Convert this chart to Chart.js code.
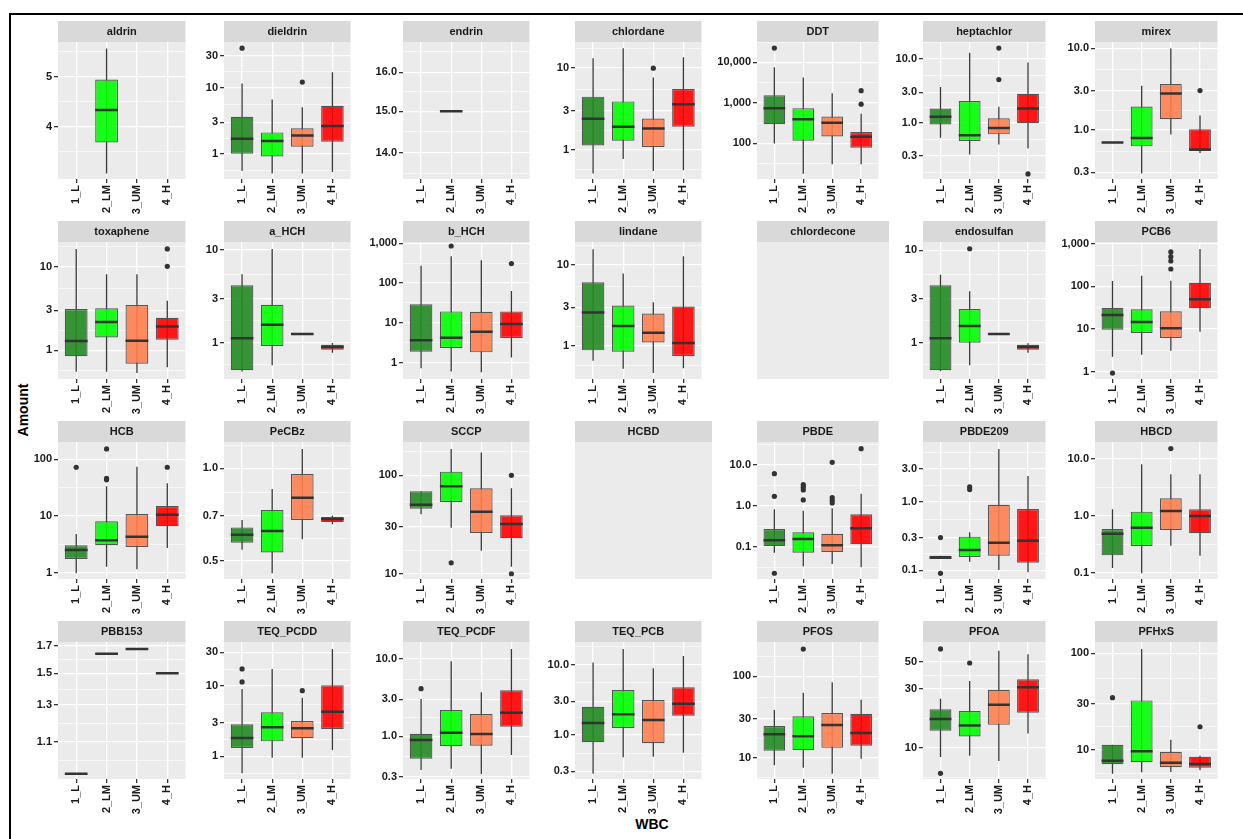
<!DOCTYPE html>
<html>
<head>
<meta charset="utf-8">
<script src="https://cdn.jsdelivr.net/npm/chart.js@4.4.0/dist/chart.umd.min.js"></script>
<style>
  body { margin: 0; background: #fff; }
  #fig { position: relative; width: 1243px; height: 839px; overflow: hidden; font-family: "Liberation Sans", Arial, sans-serif; }
  #frame { position: absolute; left: 9px; top: 13px; width: 1300px; height: 900px; border-left: 2px solid #000; border-top: 2px solid #000; }
  canvas { position: absolute; }
  .ttl { position: absolute; font-weight: bold; font-size: 14px; color: #000; white-space: nowrap; }
  #ylab { left: 23px; top: 410px; transform: translate(-50%, -50%) rotate(-90deg); }
  #xlab { left: 652px; top: 824px; transform: translate(-50%, -50%); }
</style>
</head>
<body>
<div id="fig">
  <div id="frame"></div>
  <div class="ttl" id="ylab">Amount</div>
  <div class="ttl" id="xlab">WBC</div>
</div>
<script>
const CATS = ['1_L', '2_LM', '3_UM', '4_H'];
const FILLS = ['rgba(34,139,34,0.9)', 'rgba(0,255,0,0.9)', 'rgba(255,127,80,0.9)', 'rgba(255,0,0,0.9)'];

// box stats per WBC class: [lower whisker, Q1, median, Q3, upper whisker]; null = no data
// outliers: [class index, value]
const aldrin = [null, [3.25, 3.73, 4.31, 4.94, 5.67], null, null];
const aldrinOut = [];
const dieldrin = [[0.56, 1.01, 1.70, 3.63, 11.5], [0.51, 0.92, 1.57, 2.12, 6.63], [0.51, 1.29, 1.91, 2.44, 5.07], [0.54, 1.53, 2.65, 5.33, 17.0]];
const dieldrinOut = [[0, 39], [2, 12.1]];
const endrin = [null, [15, 15, 15, 15, 15], null, null];
const endrinOut = [];
const chlordane = [[0.51, 1.13, 2.39, 4.47, 13.2], [0.77, 1.29, 1.91, 3.91, 17.5], [0.55, 1.08, 1.82, 2.41, 7.68], [0.56, 1.91, 3.62, 5.55, 13.6]];
const chlordaneOut = [[2, 10.0]];
const DDT = [[100, 297, 743, 1540, 7640], [17.9, 117, 395, 743, 4240], [30.7, 149, 322, 461, 1730], [30.7, 78, 147, 192, 538]];
const DDTOut = [[0, 22700], [3, 2010], [3, 933]];
const heptachlor = [[0.578, 0.93, 1.23, 1.67, 3.63], [0.314, 0.513, 0.629, 2.18, 12.6], [0.453, 0.652, 0.824, 1.17, 1.77], [0.391, 0.975, 1.67, 2.85, 8.85]];
const heptachlorOut = [[2, 14.9], [2, 4.76], [3, 0.155]];
const mirex = [[0.70, 0.70, 0.70, 0.70, 0.70], [0.29, 0.627, 0.796, 1.93, 3.47], [0.875, 1.35, 2.79, 3.67, 9.95], [0.52, 0.55, 0.575, 1.02, 1.50]];
const mirexOut = [[3, 3.04]];

const toxaphene = [[0.555, 0.848, 1.29, 3.12, 16.3], [0.555, 1.42, 2.18, 3.18, 8.11], [0.535, 0.69, 1.30, 3.48, 8.11], [0.626, 1.34, 1.92, 2.45, 3.92]];
const toxapheneOut = [[3, 16.3], [3, 10.1]];
const a_HCH = [[0.49, 0.504, 1.12, 4.16, 5.47], [0.57, 0.921, 1.56, 2.57, 10.25], [1.24, 1.24, 1.24, 1.24, 1.24], [0.78, 0.84, 0.90, 0.952, 0.99]];
const a_HCHOut = [];
const b_HCH = [[0.72, 1.87, 3.65, 29.3, 274], [0.595, 2.31, 4.22, 19.4, 472], [0.57, 1.80, 5.91, 18.9, 374], [1.34, 4.14, 9.34, 19.4, 63.7]];
const b_HCHOut = [[1, 861], [3, 1334], [3, 310]];
const lindane = [[0.653, 0.877, 2.58, 6.11, 15.6], [0.52, 0.843, 1.75, 3.15, 7.83], [0.46, 1.10, 1.45, 2.51, 3.46], [0.526, 0.746, 1.08, 3.06, 12.8]];
const lindaneOut = [];
const endosulfan = [[0.49, 0.503, 1.12, 4.18, 5.44], [0.57, 1.0, 1.52, 2.32, 3.6], [1.24, 1.24, 1.24, 1.24, 1.24], [0.78, 0.84, 0.90, 0.95, 0.99]];
const endosulfanOut = [[1, 10.4]];
const PCB6 = [[2.25, 9.65, 21.3, 31.6, 134], [2.5, 8.07, 14.6, 29, 178], [3.1, 6.17, 10.4, 26, 136], [8.66, 30.6, 49.8, 122, 752]];
const PCB6Out = [[0, 0.93], [2, 640], [2, 496], [2, 393], [2, 255]];

const HCB = [[0.99, 1.76, 2.54, 3.07, 4.85], [1.29, 3.07, 3.76, 8.12, 33.5], [1.16, 2.87, 4.35, 10.9, 74], [2.75, 6.63, 10.6, 15.1, 37.8]];
const HCBOut = [[0, 72.3], [1, 152], [1, 46.3], [1, 43.5], [3, 72.3]];
const PeCBz = [[0.543, 0.572, 0.608, 0.642, 0.679], [0.455, 0.532, 0.625, 0.731, 0.856], [0.587, 0.679, 0.802, 0.958, 1.156], [0.657, 0.668, 0.684, 0.694, 0.70]];
const PeCBzOut = [];
const SCCP = [[40.1, 45.8, 50.2, 68.7, 68.7], [29.3, 53.5, 77.3, 109, 185], [17.1, 25.9, 42.7, 73.8, 171], [11.8, 22.9, 32, 39.2, 73.8]];
const SCCPOut = [[1, 12.9], [3, 100], [3, 10]];
const PBDE = [[0.0733, 0.105, 0.147, 0.276, 0.83], [0.0343, 0.073, 0.158, 0.23, 0.77], [0.039, 0.0762, 0.111, 0.212, 0.88], [0.0324, 0.117, 0.287, 0.627, 1.99]];
const PBDEOut = [[0, 6.1], [0, 1.72], [0, 0.0232], [1, 3.29], [1, 2.85], [1, 2.45], [1, 1.40], [2, 11.5], [2, 1.59], [2, 1.35], [2, 1.18], [3, 24.7]];
const PBDE209 = [[0.146, 0.146, 0.153, 0.163, 0.163], [0.133, 0.156, 0.198, 0.309, 0.358], [0.101, 0.163, 0.252, 0.904, 5.87], [0.0934, 0.129, 0.27, 0.783, 2.37]];
const PBDE209Out = [[0, 0.30], [0, 0.0903], [1, 1.64], [1, 1.50]];
const HBCD = [[0.123, 0.205, 0.49, 0.592, 1.31], [0.1, 0.298, 0.625, 1.19, 8.03], [0.302, 0.569, 1.22, 2.04, 5.37], [0.202, 0.498, 1.0, 1.31, 5.37]];
const HBCDOut = [[2, 15.1]];

const PBB153 = [[0.951, 0.951, 0.951, 0.951, 0.951], [1.64, 1.64, 1.64, 1.64, 1.64], [1.675, 1.675, 1.675, 1.675, 1.675], [1.5, 1.5, 1.5, 1.5, 1.5]];
const PBB153Out = [];
const TEQ_PCDD = [[0.574, 1.31, 1.82, 2.85, 9.03], [0.955, 1.63, 2.58, 4.22, 17.4], [0.955, 1.80, 2.5, 3.17, 6.8], [1.23, 2.44, 4.30, 10.2, 33.4]];
const TEQ_PCDDOut = [[0, 17.4], [0, 11.4], [2, 8.55]];
const TEQ_PCDF = [[0.366, 0.513, 0.895, 1.08, 3.04], [0.381, 0.743, 1.11, 2.19, 9.34], [0.325, 0.756, 1.07, 1.94, 3.71], [0.573, 1.33, 2.02, 3.94, 13.5]];
const TEQ_PCDFOut = [[0, 4.13]];
const TEQ_PCB = [[0.279, 0.78, 1.47, 2.50, 10.7], [0.477, 1.25, 1.95, 4.33, 16.6], [0.486, 0.754, 1.62, 3.12, 8.81], [0.554, 1.86, 2.76, 4.73, 13.2]];
const TEQ_PCBOut = [];
const PFOS = [[8.07, 12.2, 19.4, 24.5, 38.5], [7.53, 12.4, 18.3, 32.3, 62.9], [6.36, 13.2, 25.2, 35.4, 84.3], [9.72, 14, 20.1, 34.7, 51.6]];
const PFOSOut = [[1, 216]];
const PFOA = [[8.45, 13.8, 17.2, 20.6, 25.1], [8.66, 12.4, 15.2, 19.9, 34.9], [7.85, 15.4, 22.4, 29.6, 61.4], [13.1, 19.3, 31, 36, 57.4]];
const PFOAOut = [[0, 63.4], [0, 6.24], [1, 48.8]];
const PFHxS = [[5.69, 7.11, 7.75, 11.3, 11.3], [5.88, 7.46, 9.7, 32.6, 111], [5.92, 6.62, 7.39, 9.6, 12.8], [6.17, 6.56, 7.16, 8.52, 8.7]];
const PFHxSOut = [[0, 34.8], [3, 17.4]];

// facet table: name, stats, outliers, y tick labels, y range (log axis)
const panels = [
  ['aldrin', aldrin, aldrinOut, ['4', '5'], [3.17, 5.84]],
  ['dieldrin', dieldrin, dieldrinOut, ['1', '3', '10', '30'], [0.423, 48.3]],
  ['endrin', endrin, endrinOut, ['14.0', '15.0', '16.0'], [13.4, 16.83]],
  ['chlordane', chlordane, chlordaneOut, ['1', '3', '10'], [0.438, 20.9]],
  ['DDT', DDT, DDTOut, ['100', '1,000', '10,000'], [13.2, 32000]],
  ['heptachlor', heptachlor, heptachlorOut, ['0.3', '1.0', '3.0', '10.0'], [0.129, 18.6]],
  ['mirex', mirex, mirexOut, ['0.3', '1.0', '3.0', '10.0'], [0.249, 12.0]],
  ['toxaphene', toxaphene, toxapheneOut, ['1', '3', '10'], [0.454, 19.7]],
  ['a_HCH', a_HCH, a_HCHOut, ['1', '3', '10'], [0.406, 12.2]],
  ['b_HCH', b_HCH, b_HCHOut, ['1', '10', '100', '1,000'], [0.384, 1085]],
  ['lindane', lindane, lindaneOut, ['1', '3', '10'], [0.388, 19.2]],
  ['chlordecone', null],
  ['endosulfan', endosulfan, endosulfanOut, ['1', '3', '10'], [0.405, 12.3]],
  ['PCB6', PCB6, PCB6Out, ['1', '10', '100', '1,000'], [0.675, 1096]],
  ['HCB', HCB, HCBOut, ['1', '10', '100'], [0.784, 201]],
  ['PeCBz', PeCBz, PeCBzOut, ['0.5', '0.7', '1.0'], [0.436, 1.218]],
  ['SCCP', SCCP, SCCPOut, ['10', '30', '100'], [8.84, 218]],
  ['HCBD', null],
  ['PBDE', PBDE, PBDEOut, ['0.1', '1.0', '10.0'], [0.0168, 35.9]],
  ['PBDE209', PBDE209, PBDE209Out, ['0.1', '0.3', '1.0', '3.0'], [0.0746, 7.42]],
  ['HBCD', HBCD, HBCDOut, ['0.1', '1.0', '10.0'], [0.079, 19.7]],
  ['PBB153', PBB153, PBB153Out, ['1.1', '1.3', '1.5', '1.7'], [0.929, 1.729]],
  ['TEQ_PCDD', TEQ_PCDD, TEQ_PCDDOut, ['1', '3', '10', '30'], [0.476, 42]],
  ['TEQ_PCDF', TEQ_PCDF, TEQ_PCDFOut, ['0.3', '1.0', '3.0', '10.0'], [0.28, 16.6]],
  ['TEQ_PCB', TEQ_PCB, TEQ_PCBOut, ['0.3', '1.0', '3.0', '10.0'], [0.234, 20.9]],
  ['PFOS', PFOS, PFOSOut, ['10', '30', '100'], [5.47, 264]],
  ['PFOA', PFOA, PFOAOut, ['10', '30', '50'], [5.61, 72.2]],
  ['PFHxS', PFHxS, PFHxSOut, ['10', '30', '100'], [5.01, 131]],
];

const COL_X = [58, 224, 403, 575, 757, 923, 1095];
const COL_W = [138, 137, 137, 137, 132, 133, 133];
const AXIS_W = 46, STRIP_H = 21, PANEL_H = 137, AXIS_H = 40, ROW_STEP = 200;
const FONT = '"Liberation Sans", Arial, sans-serif';
Chart.defaults.font.family = FONT;

// strip on top + grey panel background
const facetPlugin = {
  id: 'facet',
  beforeDraw(chart, args, opts) {
    const { ctx, chartArea: a } = chart;
    ctx.save();
    ctx.fillStyle = '#D9D9D9';
    ctx.fillRect(a.left, a.top - STRIP_H, a.width, STRIP_H);
    ctx.fillStyle = '#EBEBEB';
    ctx.fillRect(a.left, a.top, a.width, a.height);
    ctx.fillStyle = '#1A1A1A';
    ctx.font = 'bold 11px ' + FONT;
    ctx.textAlign = 'center';
    ctx.textBaseline = 'middle';
    ctx.fillText(opts.label, (a.left + a.right) / 2, a.top - STRIP_H / 2 + 0.5);
    ctx.restore();
  }
};

// major ticks from labels, minor ticks halfway between them in log space
function logTicks(labels, lo, hi) {
  const major = labels.map(l => parseFloat(l.replace(/,/g, '')));
  const b = major.map(Math.log10);
  const bd = b[1] - b[0];
  const ext = b.slice();
  if (Math.log10(lo) < ext[0]) ext.unshift(ext[0] - bd);
  if (Math.log10(hi) > ext[ext.length - 1]) ext.push(ext[ext.length - 1] + bd);
  const ticks = major.map((v, i) => ({ value: v, lbl: labels[i] }));
  for (let i = 0; i < ext.length - 1; i++) {
    const m = (ext[i] + ext[i + 1]) / 2;
    if (m > Math.log10(lo) && m < Math.log10(hi)) ticks.push({ value: Math.pow(10, m), minor: true });
  }
  return ticks;
}

const tickFont = { family: FONT, size: 11, weight: 'bold' };
const fig = document.getElementById('fig');

panels.forEach((p, k) => {
  const [name, stats, outs, tickLabels, range] = p;
  const col = k % 7, row = Math.floor(k / 7);
  const cv = document.createElement('canvas');
  cv.width = AXIS_W + COL_W[col] + 4;
  cv.height = STRIP_H + PANEL_H + AXIS_H;
  cv.style.left = (COL_X[col] - AXIS_W) + 'px';
  cv.style.top = (21 + ROW_STEP * row) + 'px';
  fig.appendChild(cv);

  if (!stats) {
    new Chart(cv, {
      type: 'bar',
      data: { datasets: [] },
      options: {
        responsive: false, animation: false, events: [],
        layout: { padding: { top: STRIP_H, left: AXIS_W, right: 4, bottom: AXIS_H } },
        scales: { x: { display: false }, y: { display: false } },
        plugins: { legend: { display: false }, tooltip: { enabled: false }, facet: { label: name } }
      },
      plugins: [facetPlugin]
    });
    return;
  }

  const idx = [0, 1, 2, 3].filter(i => stats[i]);
  const yTicks = logTicks(tickLabels, range[0], range[1]);
  const halfBox = c => c.chart.chartArea ? c.chart.chartArea.width / 4.2 * 0.375 : 12;

  new Chart(cv, {
    type: 'bar',
    data: {
      datasets: [
        {
          type: 'line', order: 0, showLine: false,
          data: outs.map(([i, v]) => ({ x: i + 1, y: v })),
          pointRadius: 2.6, pointBackgroundColor: '#333333', pointBorderWidth: 0
        },
        {
          type: 'line', order: 1, showLine: false,
          data: idx.map(i => ({ x: i + 1, y: stats[i][2] })),
          pointStyle: 'line', pointRadius: halfBox,
          pointBorderColor: '#333333', pointBorderWidth: 2.5
        },
        {
          type: 'bar', order: 2, grouped: false,
          data: idx.map(i => ({ x: i + 1, y: [stats[i][1], stats[i][3]] })),
          backgroundColor: idx.map(i => FILLS[i]),
          borderColor: '#555555', borderWidth: 1.2, borderSkipped: false,
          barPercentage: 0.75, categoryPercentage: 1
        },
        {
          type: 'bar', order: 3, grouped: false,
          data: idx.map(i => ({ x: i + 1, y: [stats[i][0], stats[i][4]] })),
          backgroundColor: '#3a3a3a', borderWidth: 0, maxBarThickness: 1.3
        }
      ]
    },
    options: {
      responsive: false, animation: false, events: [],
      layout: { padding: { top: STRIP_H, right: 4 } },
      plugins: { legend: { display: false }, tooltip: { enabled: false }, facet: { label: name } },
      scales: {
        x: {
          type: 'linear', min: 0.4, max: 4.6, bounds: 'data', offset: false,
          afterBuildTicks: s => { s.ticks = CATS.map((c, i) => ({ value: i + 1 })); },
          afterFit: s => { s.height = AXIS_H; },
          border: { display: false },
          grid: { offset: false, color: '#FFFFFF', lineWidth: 1.3, tickColor: '#333333', tickLength: 4 },
          ticks: {
            autoSkip: false, minRotation: 90, maxRotation: 90, padding: 2,
            color: '#1A1A1A', font: tickFont,
            callback: v => CATS[Math.round(v) - 1]
          }
        },
        y: {
          type: 'logarithmic', min: range[0], max: range[1], bounds: 'data', beginAtZero: false,
          afterBuildTicks: s => { s.ticks = yTicks.map(t => Object.assign({}, t)); },
          afterFit: s => { s.width = AXIS_W; },
          border: { display: false },
          grid: {
            color: '#FFFFFF',
            lineWidth: c => (c.tick && c.tick.minor ? 0.6 : 1.3),
            tickColor: c => (c.tick && c.tick.minor ? 'rgba(0,0,0,0)' : '#333333'),
            tickLength: 4
          },
          ticks: {
            autoSkip: false, padding: 2, color: '#1A1A1A', font: tickFont,
            callback: (v, i, t) => t[i].lbl || ''
          }
        }
      }
    },
    plugins: [facetPlugin]
  });
});
</script>
</body>
</html>
